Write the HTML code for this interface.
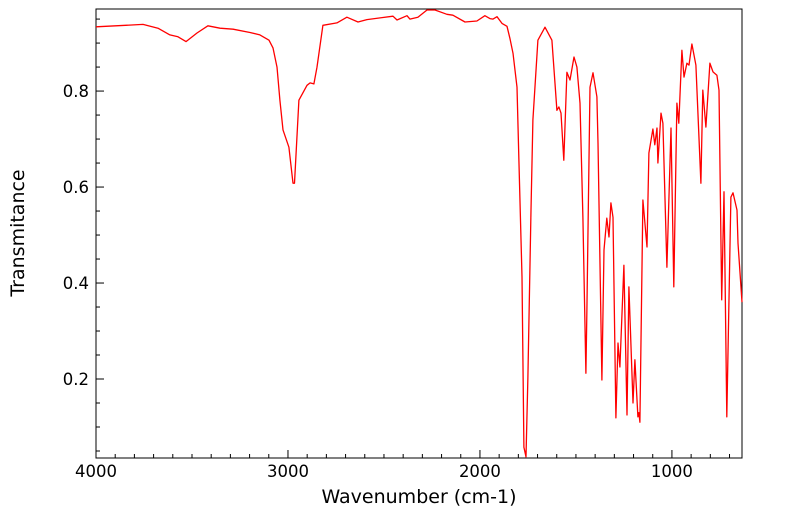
<!DOCTYPE html>
<html><head><meta charset="utf-8"><style>
body{margin:0;background:#fff;}
svg{display:block;font-family:"DejaVu Sans","Liberation Sans",sans-serif;}
</style></head><body>
<svg id="chart" width="799" height="516" viewBox="0 0 799 516"></svg>
<script>
const wavenumbers=[4000,3755,3677,3615,3573,3531,3474,3417,3354,3286,3198,3146,3099,3078,3057,3042,3026,2995,2974,2966,2943,2901,2885,2865,2849,2818,2745,2693,2635,2589,2453,2432,2380,2365,2323,2276,2234,2172,2141,2078,2016,1974,1948,1932,1911,1885,1859,1844,1828,1807,1797,1781,1771,1760,1750,1734,1724,1698,1661,1625,1609,1599,1589,1578,1563,1547,1531,1510,1495,1479,1464,1448,1443,1427,1411,1391,1385,1365,1354,1339,1328,1318,1307,1292,1281,1271,1250,1234,1224,1203,1193,1177,1172,1167,1151,1130,1120,1099,1089,1078,1073,1057,1047,1026,1005,990,974,964,948,937,922,911,896,875,849,839,823,802,786,766,755,741,729,714,693,682,661,656,635];
const transmittance=[0.934,0.939,0.931,0.917,0.913,0.903,0.921,0.936,0.931,0.929,0.922,0.917,0.906,0.890,0.850,0.781,0.719,0.683,0.608,0.608,0.781,0.812,0.817,0.815,0.850,0.937,0.942,0.954,0.944,0.949,0.956,0.948,0.957,0.950,0.954,0.969,0.969,0.960,0.958,0.944,0.946,0.957,0.951,0.950,0.955,0.941,0.935,0.910,0.879,0.808,0.656,0.413,0.058,0.038,0.204,0.552,0.740,0.906,0.933,0.906,0.816,0.760,0.767,0.754,0.656,0.839,0.823,0.871,0.850,0.775,0.537,0.212,0.344,0.808,0.838,0.788,0.692,0.198,0.469,0.535,0.496,0.567,0.537,0.119,0.275,0.225,0.437,0.125,0.392,0.150,0.240,0.121,0.130,0.110,0.573,0.475,0.671,0.721,0.688,0.723,0.650,0.754,0.733,0.433,0.723,0.392,0.775,0.733,0.885,0.829,0.858,0.854,0.898,0.854,0.608,0.802,0.725,0.858,0.840,0.833,0.802,0.365,0.590,0.121,0.579,0.588,0.552,0.483,0.360];
const xTickLabels=[4000,3000,2000,1000];
const yTickLabels=[0.2,0.4,0.6,0.8];

const NS="http://www.w3.org/2000/svg";
const svg=document.getElementById('chart');
const L=96,R=742,T=9,B=458;
const X0=4000,X1=635,Y0=0.0354,Y1=0.971;
function xs(w){return L+(X0-w)/(X0-X1)*(R-L);}
function ys(t){return B-(t-Y0)/(Y1-Y0)*(B-T);}
function mk(tag,attrs){const e=document.createElementNS(NS,tag);for(const k in attrs)e.setAttribute(k,attrs[k]);svg.appendChild(e);return e;}

const frame=mk('rect',{x:L,y:T,width:R-L,height:B-T,fill:'none',stroke:'#000','stroke-width':1});



for(let w=4000;w>=X1;w-=100){
  const major=w%1000===0;
  const t=mk('line',{x1:xs(w),x2:xs(w),y1:B,y2:B-(major?8:4),stroke:'#000','stroke-width':1});
  
  
}
xTickLabels.forEach(v=>{
  const tx=mk('text',{x:xs(v),y:477,'font-size':16.5,'text-anchor':'middle',fill:'#000'});
  tx.textContent=String(v);
  
  
});
for(let k=1;k<=19;k++){
  const v=k*0.05; if(v<Y0||v>Y1)continue;
  const major=k%4===0;
  const t=mk('line',{x1:L,x2:L+(major?8:4),y1:ys(v),y2:ys(v),stroke:'#000','stroke-width':1});
  
  
}
yTickLabels.forEach(v=>{
  const tx=mk('text',{x:89,y:ys(v)+6,'font-size':16.5,'text-anchor':'end',fill:'#000'});
  tx.textContent=v.toFixed(1);
  
  
});
const xt=mk('text',{x:419,y:503,'font-size':19,'text-anchor':'middle',fill:'#000'});
xt.textContent='Wavenumber (cm-1)';


const yt=mk('text',{x:0,y:0,'font-size':19,'text-anchor':'middle',fill:'#000',transform:'translate(24,233) rotate(-90)'});
yt.textContent='Transmitance';



const d=wavenumbers.map((w,i)=>(i?'L':'M')+xs(w).toFixed(1)+','+ys(transmittance[i]).toFixed(1)).join(' ');
const line=mk('path',{d:d,fill:'none',stroke:'#ff0000','stroke-width':1.3,'stroke-linejoin':'round'});


</script>
</body></html>
